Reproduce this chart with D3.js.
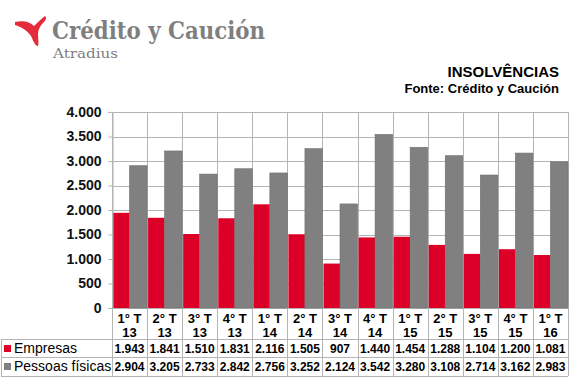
<!DOCTYPE html>
<html><head><meta charset="utf-8">
<script src="https://cdn.jsdelivr.net/npm/d3@7"></script>
<style>body{margin:0;background:#fff}svg{display:block}text{font-family:Arial,"Liberation Sans",sans-serif}</style>
</head><body><svg id="c" width="576" height="381"></svg>
<script>
const categories = [["1° T","13"],["2° T","13"],["3° T","13"],["4° T","13"],["1° T","14"],["2° T","14"],["3° T","14"],["4° T","14"],["1° T","15"],["2° T","15"],["3° T","15"],["4° T","15"],["1° T","16"]];
const empresas = [1943,1841,1510,1831,2116,1505,907,1440,1454,1288,1104,1200,1081];
const pessoas = [2904,3205,2733,2842,2756,3252,2124,3542,3280,3108,2714,3162,2983];
const seriesNames = ["Empresas","Pessoas físicas"];
const yTicks = [0,500,1000,1500,2000,2500,3000,3500,4000];
const colors = ["#dc0028","#808080"];

const svg = d3.select("#c");
const fmt = v => d3.format(",")(v).replace(/,/g,".");
const L=112, R=568, T=112, B=308;
const x = d3.scaleBand().domain(d3.range(categories.length)).range([L,R]).padding(0);
const y = d3.scaleLinear().domain([0,4000]).range([B,T]);
const grid="#b4b4b4";

// logo
const logo = svg.append("g");
logo.append("path").attr("d","M15,22 C24,20 30,22 34,26 C38,22 41,19 45,16 C47,18 46,20 43,23 C40,26 38,30 38,34 C38,39 39,43 38,46 C35,46 33,40 31,36 C27,30 21,27 15,25 Z").attr("fill","#e32b3c");
logo.append("text").attr("x",52).attr("y",39).style("font-family","'DejaVu Serif',serif").attr("font-weight","bold").attr("font-size",24).attr("fill","#7f7f7f").attr("textLength",213).attr("lengthAdjust","spacingAndGlyphs").text("Crédito y Caución");
logo.append("text").attr("x",53).attr("y",58).style("font-family","'DejaVu Serif',serif").attr("font-size",13).attr("fill","#7f7f7f").attr("textLength",65).attr("lengthAdjust","spacingAndGlyphs").text("Atradius");

// title
svg.append("text").attr("x",559).attr("y",77).attr("text-anchor","end").attr("font-weight","bold").attr("font-size",15).attr("fill","#000").text("INSOLVÊNCIAS");
svg.append("text").attr("x",559).attr("y",93).attr("text-anchor","end").attr("font-weight","bold").attr("font-size",13).attr("fill","#000").text("Fonte: Crédito y Caución");

// gridlines
svg.append("g").selectAll("line").data(yTicks).join("line")
  .attr("x1",L).attr("x2",R).attr("y1",d=>Math.round(y(d))+0.5).attr("y2",d=>Math.round(y(d))+0.5)
  .attr("stroke",grid);
const bounds = d3.range(categories.length+1).map(i=> i<categories.length ? x(i) : R);
svg.append("g").selectAll("line").data(bounds).join("line")
  .attr("x1",d=>Math.round(d)+0.5).attr("x2",d=>Math.round(d)+0.5).attr("y1",T).attr("y2",376)
  .attr("stroke",grid);

// bars
const bw = x.bandwidth()/2;
svg.append("g").selectAll("rect").data(empresas).join("rect")
  .attr("x",(d,i)=>x(i)+1).attr("width",bw-1).attr("y",d=>y(d)).attr("height",d=>B-y(d)).attr("fill",colors[0]);
svg.append("g").selectAll("rect").data(pessoas).join("rect")
  .attr("x",(d,i)=>x(i)+bw).attr("width",bw).attr("y",d=>y(d)).attr("height",d=>B-y(d)).attr("fill",colors[1]).attr("stroke","#6f6f6f").attr("stroke-width",0.6);

// y axis
const ya = svg.append("g").attr("transform",`translate(${L+0.5},0)`).call(d3.axisLeft(y).tickValues(yTicks).tickFormat(fmt).tickSize(4).tickPadding(7));
ya.select(".domain").attr("stroke",grid);
ya.selectAll(".tick line").attr("stroke",grid);
ya.selectAll("text").attr("font-size",14).attr("font-weight","bold").attr("fill","#111").attr("font-family","Arial");

// table
const rows=[339,357,376];
svg.append("g").selectAll("line").data(rows).join("line")
  .attr("x1",1).attr("x2",R).attr("y1",d=>d+0.5).attr("y2",d=>d+0.5).attr("stroke",grid);
svg.append("line").attr("x1",1.5).attr("x2",1.5).attr("y1",339).attr("y2",376).attr("stroke",grid);
const cat = svg.append("g").selectAll("g").data(categories).join("g");
cat.append("text").attr("x",(d,i)=>x(i)+x.bandwidth()/2).attr("y",323).attr("text-anchor","middle").attr("font-weight","bold").attr("font-size",13).text(d=>d[0]);
cat.append("text").attr("x",(d,i)=>x(i)+x.bandwidth()/2).attr("y",337).attr("text-anchor","middle").attr("font-weight","bold").attr("font-size",13).text(d=>d[1]);
[empresas,pessoas].forEach((vals,r)=>{
  const by = r===0?353:371;
  svg.append("rect").attr("x",4).attr("y",by-8).attr("width",7).attr("height",7).attr("fill",colors[r]);
  svg.append("text").attr("x",14).attr("y",by).attr("font-size",14).attr("fill","#000").text(seriesNames[r]);
  svg.append("g").selectAll("text").data(vals).join("text")
    .attr("x",(d,i)=>x(i)+x.bandwidth()/2).attr("y",by).attr("text-anchor","middle").attr("font-weight","bold").attr("font-size",12).attr("fill","#000").text(fmt);
});
</script></body></html>
